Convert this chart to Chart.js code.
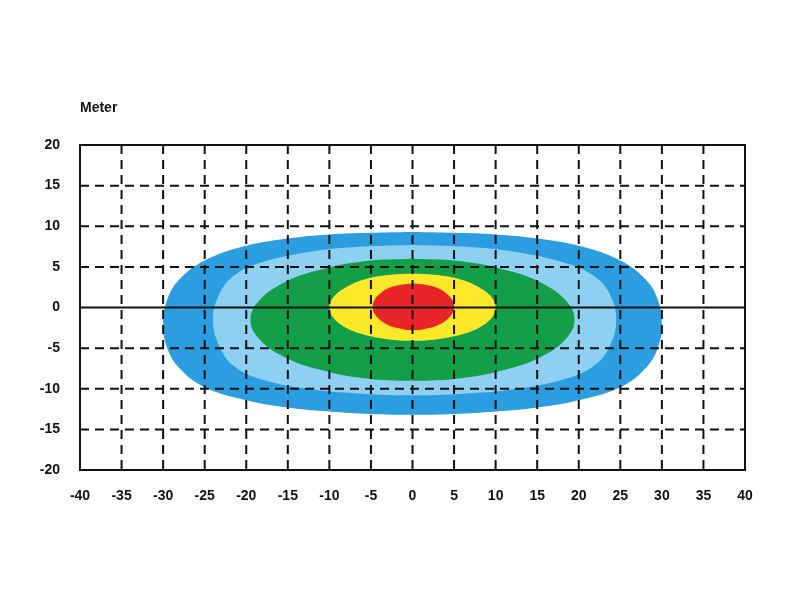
<!DOCTYPE html>
<html><head><meta charset="utf-8">
<script src="https://cdn.jsdelivr.net/npm/chart.js@4"></script>
<style>html,body{margin:0;background:#fff}</style></head>
<body><canvas id="c" width="800" height="600"></canvas>
<script>
const xTicks=[-40,-35,-30,-25,-20,-15,-10,-5,0,5,10,15,20,25,30,35,40];
const yTicks=[-20,-15,-10,-5,0,5,10,15,20];
const zoneNames=['red','yellow','green','lightblue','blue'];
const zoneColors=['#e8262a','#fde92a','#139f48','#8ed0f2','#2a9ee0'];
const redX=[-4.8,-4.55,-3.8,-2.85,-1.4,0.1,1.6,3.0,4.0,4.75,5];
const redTop=[0.1,1,1.8,2.4,2.8,3,2.8,2.4,1.8,1,0.1];
const redBot=[0.1,-0.8,-1.6,-2.2,-2.6,-2.8,-2.6,-2.2,-1.6,-0.8,0.1];
const yellowX=[-10,-9.5,-8,-6,-3,0,3,6,8,9.5,10];
const yellowTop=[0,1.3,2.5,3.4,4,4.2,4,3.4,2.5,1.3,0];
const yellowBot=[0,-1.3,-2.5,-3.3,-3.9,-4.1,-3.9,-3.3,-2.5,-1.3,0];
const greenX=[-19.5,-18.5,-15.6,-11.7,-5.85,0,5.85,11.7,15.6,18.5,19.5];
const greenTop=[-1.5,0.8,3,4.5,5.7,6,5.7,4.5,3,0.8,-1.5];
const greenBot=[-1.5,-3.8,-6,-7.5,-8.7,-9,-8.7,-7.5,-6,-3.8,-1.5];
const lbX=[-24,-23.3,-21.5,-18,-12,-6,0,6,12,18,21.8,23.8,24.5];
const lbTop=[-1.5,1.5,3.9,5.6,6.9,7.5,7.7,7.5,6.9,5.6,3.9,1.5,-1.5];
const lbBot=[-1.5,-4.6,-7.2,-8.9,-10.1,-10.6,-10.8,-10.6,-10.1,-8.9,-7.2,-4.6,-1.5];
const blueX=[-30,-29.5,-28,-25,-20,-15,-10,-5,0,5,10,15,20,25,28,29.5,30];
const blueTop=[-2,1,3.5,5.8,7.6,8.5,9,9.2,9.3,9.2,9,8.5,7.6,5.8,3.5,1,-2];
const blueBot=[-2,-5,-7.5,-9.8,-11.4,-12.3,-12.8,-13.1,-13.2,-13.1,-12.8,-12.3,-11.4,-9.8,-7.5,-5,-2];
const zones=[[redX,redTop,redBot],[yellowX,yellowTop,yellowBot],[greenX,greenTop,greenBot],[lbX,lbTop,lbBot],[blueX,blueTop,blueBot]];
const datasets=[];
zones.forEach((z,i)=>{
  const [xs,top,bot]=z,n=xs.length,m=Math.floor(n/2);
  const pts=[];
  for(let k=m;k<n;k++)pts.push({x:xs[k],y:top[k]});
  for(let k=n-2;k>=1;k--)pts.push({x:xs[k],y:bot[k]});
  for(let k=0;k<=m;k++)pts.push({x:xs[k],y:top[k]});
  datasets.push({label:zoneNames[i],data:pts,fill:'shape',showLine:true,pointRadius:0,borderWidth:0,
    borderColor:zoneColors[i],backgroundColor:zoneColors[i],tension:0.4});
});
const font={family:'Liberation Sans, Arial',size:14,weight:'bold'};
const frame={id:'frame',afterDatasetsDraw(ch){
  const c=ch.ctx,a=ch.chartArea,x=ch.scales.x,y=ch.scales.y;
  c.save();c.strokeStyle='#111';c.lineWidth=2;c.setLineDash([9,6]);
  xTicks.forEach(v=>{if(v>-40&&v<40){const p=x.getPixelForValue(v);c.beginPath();c.moveTo(p,a.top);c.lineTo(p,a.bottom);c.stroke();}});
  yTicks.forEach(v=>{if(v>-20&&v<20&&v!==0){const p=y.getPixelForValue(v);c.beginPath();c.moveTo(a.left,p);c.lineTo(a.right,p);c.stroke();}});
  c.setLineDash([]);const z=y.getPixelForValue(0);c.beginPath();c.moveTo(a.left,z);c.lineTo(a.right,z);c.stroke();
  c.strokeRect(a.left,a.top,a.right-a.left,a.bottom-a.top);
  c.fillStyle='#111';c.font='bold 14px Liberation Sans, Arial';c.textAlign='left';c.fillText('Meter',80,112);
  c.restore();}};
new Chart(document.getElementById('c'),{type:'scatter',data:{datasets},
 options:{responsive:false,animation:false,layout:{padding:{top:145,right:55,left:0,bottom:0}},
  plugins:{legend:{display:false},tooltip:{enabled:false}},
  scales:{
   x:{type:'linear',min:-40,max:40,afterBuildTicks:s=>{s.ticks=xTicks.map(v=>({value:v}));},afterFit:s=>{s.height=130;},
      grid:{display:false},border:{display:false},ticks:{color:'#111',font,padding:10,maxRotation:0}},
   y:{type:'linear',min:-20,max:20,afterBuildTicks:s=>{s.ticks=yTicks.map(v=>({value:v}));},afterFit:s=>{s.width=80;},
      grid:{display:false},border:{display:false},ticks:{color:'#111',font,padding:12}}
  }},plugins:[frame]});
</script></body></html>
